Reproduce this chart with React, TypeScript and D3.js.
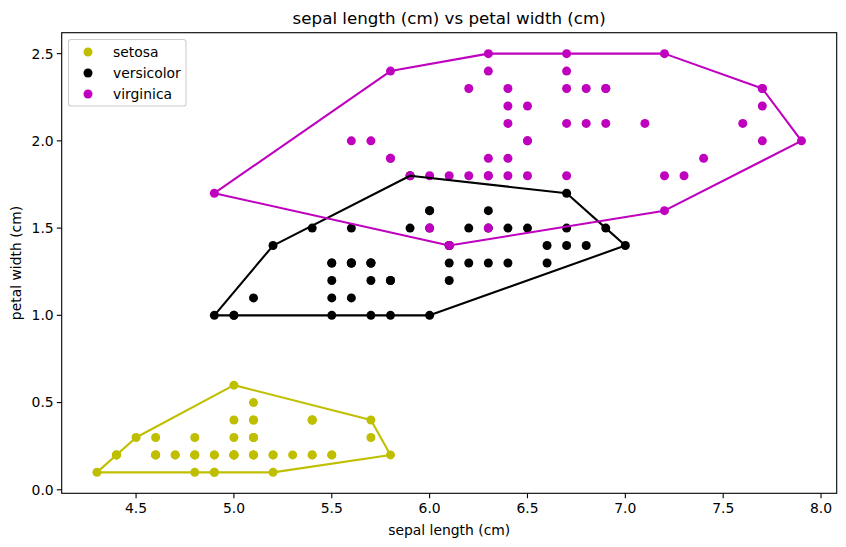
import React, { useEffect, useRef } from 'react';
import * as d3 from 'd3';

// iris: sepal length (cm) / petal width (cm), per species
const setosaSepalLength = [5.1, 4.9, 4.7, 4.6, 5.0, 5.4, 4.6, 5.0, 4.4, 4.9, 5.4, 4.8, 4.8, 4.3, 5.8, 5.7, 5.4, 5.1, 5.7, 5.1, 5.4, 5.1, 4.6, 5.1, 4.8, 5.0, 5.0, 5.2, 5.2, 4.7, 4.8, 5.4, 5.2, 5.5, 4.9, 5.0, 5.5, 4.9, 4.4, 5.1, 5.0, 4.5, 4.4, 5.0, 5.1, 4.8, 5.1, 4.6, 5.3, 5.0];
const setosaPetalWidth = [0.2, 0.2, 0.2, 0.2, 0.2, 0.4, 0.3, 0.2, 0.2, 0.1, 0.2, 0.2, 0.1, 0.1, 0.2, 0.4, 0.4, 0.3, 0.3, 0.3, 0.2, 0.4, 0.2, 0.5, 0.2, 0.2, 0.4, 0.2, 0.2, 0.2, 0.2, 0.4, 0.1, 0.2, 0.2, 0.2, 0.2, 0.1, 0.2, 0.2, 0.3, 0.3, 0.2, 0.6, 0.4, 0.3, 0.2, 0.2, 0.2, 0.2];
const versicolorSepalLength = [7.0, 6.4, 6.9, 5.5, 6.5, 5.7, 6.3, 4.9, 6.6, 5.2, 5.0, 5.9, 6.0, 6.1, 5.6, 6.7, 5.6, 5.8, 6.2, 5.6, 5.9, 6.1, 6.3, 6.1, 6.4, 6.6, 6.8, 6.7, 6.0, 5.7, 5.5, 5.5, 5.8, 6.0, 5.4, 6.0, 6.7, 6.3, 5.6, 5.5, 5.5, 6.1, 5.8, 5.0, 5.6, 5.7, 5.7, 6.2, 5.1, 5.7];
const versicolorPetalWidth = [1.4, 1.5, 1.5, 1.3, 1.5, 1.3, 1.6, 1.0, 1.3, 1.4, 1.0, 1.5, 1.0, 1.4, 1.3, 1.4, 1.5, 1.0, 1.5, 1.1, 1.8, 1.3, 1.5, 1.2, 1.3, 1.4, 1.4, 1.7, 1.5, 1.0, 1.1, 1.0, 1.2, 1.6, 1.5, 1.6, 1.5, 1.3, 1.3, 1.3, 1.2, 1.4, 1.2, 1.0, 1.3, 1.2, 1.3, 1.3, 1.1, 1.3];
const virginicaSepalLength = [6.3, 5.8, 7.1, 6.3, 6.5, 7.6, 4.9, 7.3, 6.7, 7.2, 6.5, 6.4, 6.8, 5.7, 5.8, 6.4, 6.5, 7.7, 7.7, 6.0, 6.9, 5.6, 7.7, 6.3, 6.7, 7.2, 6.2, 6.1, 6.4, 7.2, 7.4, 7.9, 6.4, 6.3, 6.1, 7.7, 6.3, 6.4, 6.0, 6.9, 6.7, 6.9, 5.8, 6.8, 6.7, 6.7, 6.3, 6.5, 6.2, 5.9];
const virginicaPetalWidth = [2.5, 1.9, 2.1, 1.8, 2.2, 2.1, 1.7, 1.8, 1.8, 2.5, 2.0, 1.9, 2.1, 2.0, 2.4, 2.3, 1.8, 2.2, 2.3, 1.5, 2.3, 2.0, 2.0, 1.8, 2.1, 1.8, 1.8, 1.8, 2.1, 1.6, 1.9, 2.0, 2.2, 1.5, 1.4, 2.3, 2.4, 1.8, 1.8, 2.1, 2.4, 2.3, 1.9, 2.3, 2.5, 2.3, 1.9, 2.0, 2.3, 1.8];

const species = ['setosa', 'versicolor', 'virginica'];
const speciesColors = ['#bfbf00', '#000000', '#bf00bf'];
const xTicks = [4.5, 5.0, 5.5, 6.0, 6.5, 7.0, 7.5, 8.0];
const yTicks = [0.0, 0.5, 1.0, 1.5, 2.0, 2.5];

const App: React.FC = () => {
  const svgRef = useRef<SVGSVGElement | null>(null);

  useEffect(() => {
    if (!svgRef.current) return;
    const width = 846;
    const height = 547;
    const left = 61.7, right = 836.7, top = 32.7, bottom = 493.3;
    const font = 'DejaVu Sans, sans-serif';
    const dotR = 4.5;

    const svg = d3.select(svgRef.current);
    svg.selectAll('*').remove();
    svg.append('rect').attr('width', width).attr('height', height).attr('fill', '#fff');

    const groups: [number, number][][] = [
      setosaSepalLength.map((x, i) => [x, setosaPetalWidth[i]]),
      versicolorSepalLength.map((x, i) => [x, versicolorPetalWidth[i]]),
      virginicaSepalLength.map((x, i) => [x, virginicaPetalWidth[i]]),
    ];
    const all = groups.flat();
    const xExt = d3.extent(all, d => d[0]) as [number, number];
    const yExt = d3.extent(all, d => d[1]) as [number, number];
    const xPad = (xExt[1] - xExt[0]) * 0.05;
    const yPad = (yExt[1] - yExt[0]) * 0.05;

    const x = d3.scaleLinear().domain([xExt[0] - xPad, xExt[1] + xPad]).range([left, right]);
    const y = d3.scaleLinear().domain([yExt[0] - yPad, yExt[1] + yPad]).range([bottom, top]);

    // points
    groups.forEach((pts, gi) => {
      svg.append('g').selectAll('circle').data(pts).join('circle')
        .attr('cx', d => x(d[0])).attr('cy', d => y(d[1]))
        .attr('r', dotR).attr('fill', speciesColors[gi]);
    });

    // convex hulls
    const line = d3.line<[number, number]>().x(d => x(d[0])).y(d => y(d[1]));
    groups.forEach((pts, gi) => {
      const hull = d3.polygonHull(pts);
      if (!hull) return;
      svg.append('path')
        .attr('d', line([...hull, hull[0]]))
        .attr('fill', 'none')
        .attr('stroke', speciesColors[gi])
        .attr('stroke-width', 2.08)
        .attr('stroke-linejoin', 'round');
    });

    // frame
    svg.append('rect')
      .attr('x', left).attr('y', top).attr('width', right - left).attr('height', bottom - top)
      .attr('fill', 'none').attr('stroke', '#000').attr('stroke-width', 1.1);

    // x ticks
    const xg = svg.append('g');
    xTicks.forEach(t => {
      xg.append('line').attr('x1', x(t)).attr('x2', x(t)).attr('y1', bottom).attr('y2', bottom + 4.9)
        .attr('stroke', '#000').attr('stroke-width', 1.1);
      xg.append('text').attr('x', x(t)).attr('y', bottom + 20)
        .attr('text-anchor', 'middle').attr('font-family', font).attr('font-size', 13.9)
        .text(t.toFixed(1));
    });
    // y ticks
    const yg = svg.append('g');
    yTicks.forEach(t => {
      yg.append('line').attr('x1', left - 4.9).attr('x2', left).attr('y1', y(t)).attr('y2', y(t))
        .attr('stroke', '#000').attr('stroke-width', 1.1);
      yg.append('text').attr('x', left - 8).attr('y', y(t)).attr('dy', '0.35em')
        .attr('text-anchor', 'end').attr('font-family', font).attr('font-size', 13.9)
        .text(t.toFixed(1));
    });

    // labels
    svg.append('text').attr('x', (left + right) / 2).attr('y', 535)
      .attr('text-anchor', 'middle').attr('font-family', font).attr('font-size', 13.9)
      .text('sepal length (cm)');
    svg.append('text').attr('transform', `translate(21,${(top + bottom) / 2}) rotate(-90)`)
      .attr('text-anchor', 'middle').attr('font-family', font).attr('font-size', 13.9)
      .text('petal width (cm)');
    svg.append('text').attr('x', (left + right) / 2).attr('y', 24)
      .attr('text-anchor', 'middle').attr('font-family', font).attr('font-size', 16.7)
      .text('sepal length (cm) vs petal width (cm)');

    // legend
    const lg = svg.append('g');
    lg.append('rect').attr('x', 68.5).attr('y', 39.5).attr('width', 117.5).attr('height', 66.5)
      .attr('rx', 2.8).attr('fill', '#fff').attr('fill-opacity', 0.8)
      .attr('stroke', '#cccccc').attr('stroke-width', 1.1);
    species.forEach((s, i) => {
      const cy = 52 + i * 21;
      lg.append('circle').attr('cx', 88).attr('cy', cy).attr('r', dotR).attr('fill', speciesColors[i]);
      lg.append('text').attr('x', 113).attr('y', cy).attr('dy', '0.35em')
        .attr('font-family', font).attr('font-size', 13.9).text(s);
    });
  }, []);

  return <svg ref={svgRef} width={846} height={547} style={{ display: 'block', margin: -8 }} />;
};

export default App;
